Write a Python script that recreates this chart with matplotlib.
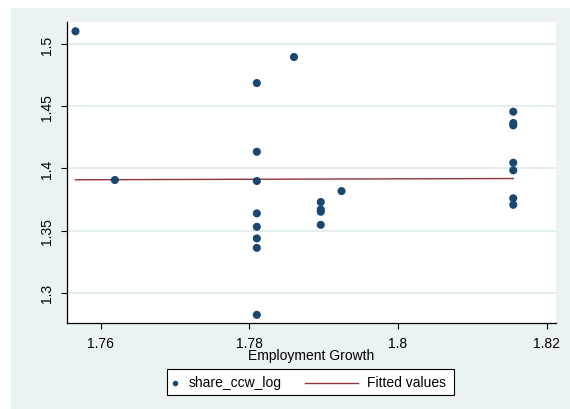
import matplotlib
matplotlib.use("Agg")
import matplotlib.pyplot as plt
from matplotlib.patches import Rectangle
from matplotlib.lines import Line2D

plt.rcParams['font.family'] = ['Liberation Sans', 'DejaVu Sans']

# employment growth vs. log ccw share
emp_growth = [1.7566, 1.7619,
              1.7810, 1.7810, 1.7810, 1.7810, 1.7810, 1.7810, 1.7810, 1.7810,
              1.7860,
              1.7896, 1.7896, 1.7896, 1.7896,
              1.7924,
              1.8155, 1.8155, 1.8155, 1.8155, 1.8155, 1.8155, 1.8155]
share_ccw_log = [1.5102, 1.3907,
                 1.4686, 1.4134, 1.3899, 1.3639, 1.3531, 1.3438, 1.3362, 1.2824,
                 1.4895,
                 1.3730, 1.3671, 1.3652, 1.3547,
                 1.3818,
                 1.4456, 1.4365, 1.4346, 1.4046, 1.3985, 1.3760, 1.3708]

# fitted line end points
fit_x = [1.7566, 1.8155]
fit_y = [1.3909, 1.3919]

xticks = [1.76, 1.78, 1.80, 1.82]
xtick_labels = ['1.76', '1.78', '1.8', '1.82']
yticks = [1.30, 1.35, 1.40, 1.45, 1.50]
ytick_labels = ['1.3', '1.35', '1.4', '1.45', '1.5']

navy = '#1a476f'
maroon = '#90353b'
bg = '#eaf2f3'

W, H = 570, 410
fig = plt.figure(figsize=(5.7, 4.1), dpi=100)
fig.patch.set_facecolor('white')
# stata-style outer region
fig.patches.append(Rectangle((11 / W, 0), 1 - 11 / W, (H - 9) / H,
                             transform=fig.transFigure, facecolor=bg,
                             edgecolor='none', zorder=-10))

ax = fig.add_axes([66.7 / W, (H - 324.3) / H, (556 - 66.7) / W, (324.3 - 23.3) / H])
ax.set_facecolor('white')

ax.plot(fit_x, fit_y, color=maroon, lw=1.0, zorder=2)
ax.scatter(emp_growth, share_ccw_log, s=34, color=navy, edgecolors='none', zorder=3)

ax.set_xlim(1.75542, 1.82125)
ax.set_ylim(1.2756, 1.5174)
ax.set_xticks(xticks)
ax.set_xticklabels(xtick_labels)
ax.set_yticks(yticks)
ax.set_yticklabels(ytick_labels, rotation=90, va='center')
ax.tick_params(axis='both', direction='out', length=4, width=0.8, labelsize=10, pad=5)

for y in yticks:
    ax.axhline(y, color='#e4edef', lw=1.5, zorder=0)

for side in ['top', 'right']:
    ax.spines[side].set_visible(False)
for side in ['left', 'bottom']:
    ax.spines[side].set_linewidth(0.9)

ax.set_xlabel('Employment Growth', fontsize=10, labelpad=-1)

# legend box below the plot
fig.patches.append(Rectangle((166.7 / W, (H - 396) / H), (454 - 166.7) / W, 26 / H,
                             transform=fig.transFigure, facecolor='white',
                             edgecolor='black', lw=0.8))
ly = (H - 383.5) / H
fig.lines.append(Line2D([175 / W], [ly], transform=fig.transFigure, marker='o',
                        markersize=4, color=navy, markeredgewidth=0, linestyle='none'))
fig.text(188.3 / W, ly, 'share_ccw_log', fontsize=10, va='center', ha='left')
fig.lines.append(Line2D([305 / W, 358.3 / W], [ly, ly], transform=fig.transFigure,
                        color=maroon, lw=1.0))
fig.text(366.7 / W, ly, 'Fitted values', fontsize=10, va='center', ha='left')

fig.savefig('out.png', dpi=100)
